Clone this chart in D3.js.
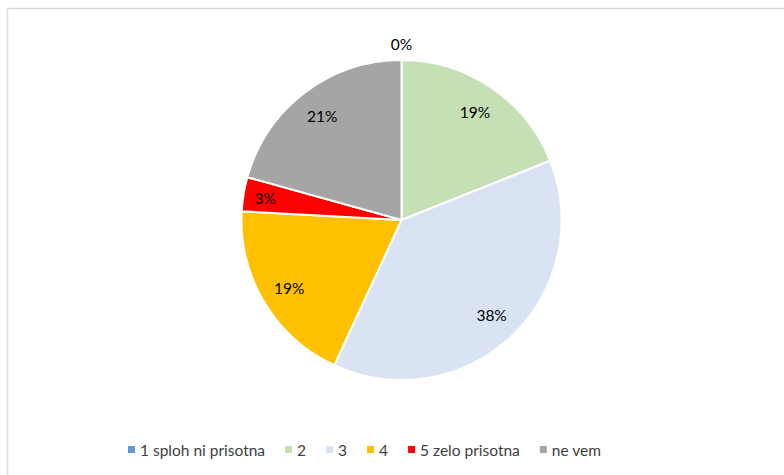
<!DOCTYPE html>
<html>
<head>
<meta charset="utf-8">
<script src="https://cdn.jsdelivr.net/npm/d3@7"></script>
<style>
  body { margin: 0; background: #fff; }
  svg text { font-family: Lato, "Open Sans", sans-serif; fill: #000; }
</style>
</head>
<body>
<svg id="chart" width="784" height="475"></svg>
<script>
var categories = ["1 sploh ni prisotna", "2", "3", "4", "5 zelo prisotna", "ne vem"];
var counts = [0, 11, 22, 11, 2, 12];
var labels = ["0%", "19%", "38%", "19%", "3%", "21%"];
var colors = ["#5B9BD5", "#C5E0B4", "#DAE3F3", "#FFC000", "#FF0000", "#A5A5A5"];

var width = 784, height = 475;
var cx = 401.5, cy = 220, radius = 160;

var svg = d3.select('#chart');

// chart area border
svg.append('rect')
   .attr('x', 7.5).attr('y', 8.5)
   .attr('width', 800).attr('height', 500)
   .attr('fill', '#fff')
   .attr('stroke', '#D9D9D9')
   .attr('stroke-width', 1.5);

var data = categories.map(function(c, i) {
   return { key: c, value: counts[i], label: labels[i], color: colors[i] };
});

var pie = d3.pie().sort(null).value(function(d) { return d.value; });
var arcs = pie(data);

var arc = d3.arc().innerRadius(0).outerRadius(radius);

var g = svg.append('g').attr('transform', 'translate(' + cx + ',' + cy + ')');

g.selectAll('path')
   .data(arcs.filter(function(d) { return d.data.value > 0; }))
   .enter().append('path')
   .attr('d', arc)
   .attr('fill', function(d) { return d.data.color; })
   .attr('stroke', '#fff')
   .attr('stroke-width', 2)
   .attr('stroke-linejoin', 'round');

// labels
g.selectAll('text.lbl')
   .data(arcs)
   .enter().append('text')
   .attr('class', 'lbl')
   .attr('text-anchor', 'middle')
   .attr('dominant-baseline', 'central')
   .style('font-size', '15.5px')
   .attr('transform', function(d) {
      var a = (d.startAngle + d.endAngle) / 2;
      var r = d.data.value === 0 ? 176 : (d.data.value < 3 ? 138 : 131);
      return 'translate(' + (Math.sin(a) * r) + ',' + (-Math.cos(a) * r) + ')';
   })
   .text(function(d) { return d.data.label; });

// legend
var legend = svg.append('g').attr('transform', 'translate(0,450)');
var x = 128;
data.forEach(function(d) {
   legend.append('rect')
      .attr('x', x).attr('y', -4)
      .attr('width', 7).attr('height', 7)
      .attr('fill', d.color);
   var t = legend.append('text')
      .attr('x', x + 12).attr('y', 0)
      .attr('dominant-baseline', 'central')
      .style('font-size', '15.5px')
      .style('fill', '#404040')
      .text(d.key);
   x += 12 + t.node().getComputedTextLength() + 20;
});
</script>
</body>
</html>
